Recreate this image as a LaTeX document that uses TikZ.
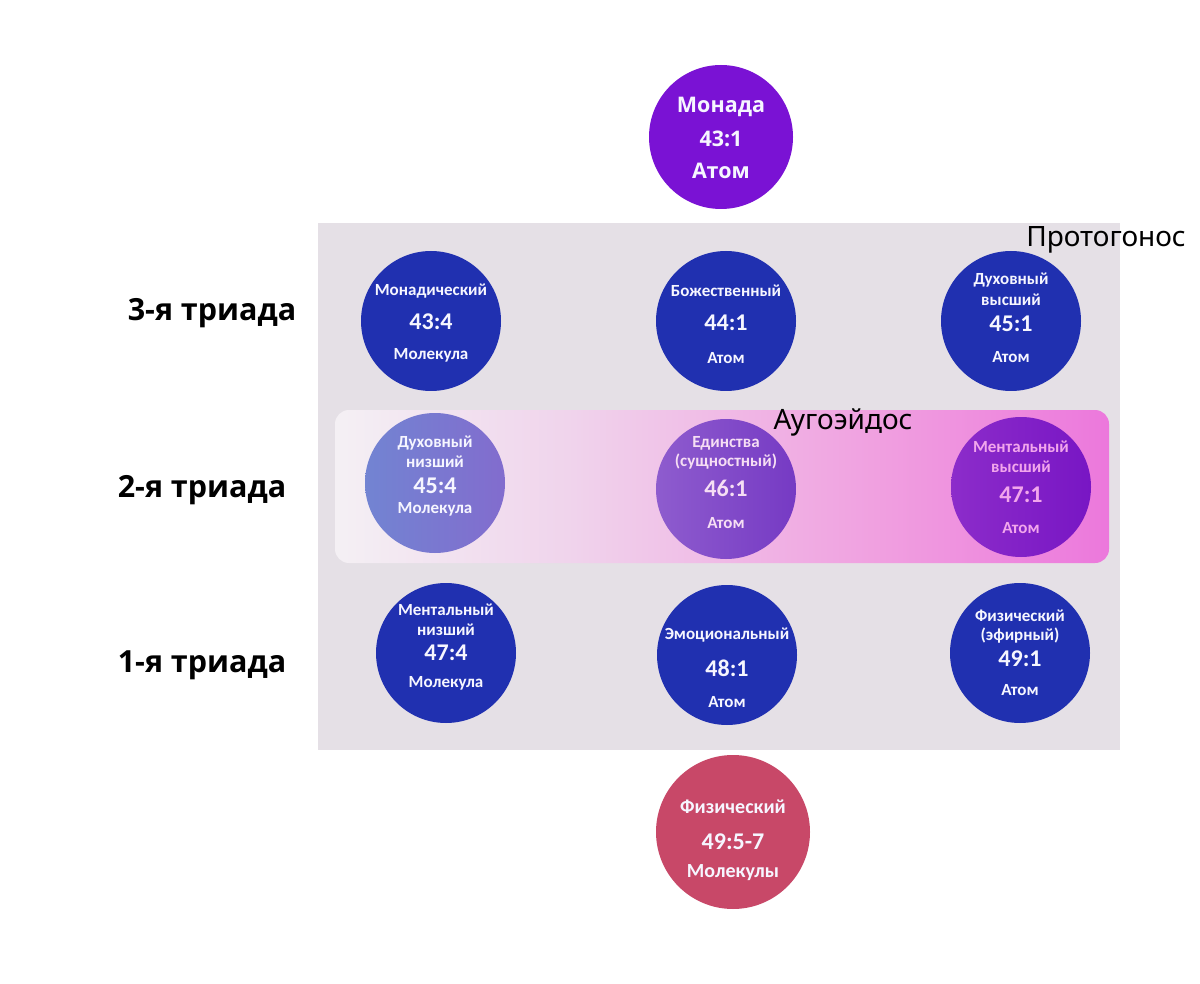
\documentclass[tikz,border=0pt]{standalone}
\usepackage{fontspec}
\setmainfont{Carlito}
\newfontfamily\osans{Open Sans}
\newfontfamily\nsans{Noto Sans}
\definecolor{panelgrey}{RGB}{229,224,230}
\definecolor{deepblue}{RGB}{32,48,176}
\definecolor{monadviolet}{RGB}{122,18,212}
\definecolor{physred}{RGB}{200,72,104}
\definecolor{bandA}{RGB}{244,240,244}
\definecolor{bandB}{RGB}{240,212,236}
\definecolor{bandC}{RGB}{240,160,224}
\definecolor{bandD}{RGB}{236,120,220}
\definecolor{txtwhite}{RGB}{246,246,255}
\definecolor{txtpale}{RGB}{246,222,244}
\definecolor{txtpink}{RGB}{242,166,236}
\pgfdeclarehorizontalshading{bandshade}{100bp}{color(0bp)=(bandA); color(25bp)=(bandA); color(40bp)=(bandB); color(60bp)=(bandC); color(75bp)=(bandD); color(100bp)=(bandD)}
\tikzset{
  bubble/.style={circle, inner sep=0pt, minimum size=140pt, draw=none},
  nm/.style={font=\bfseries\fontsize{17}{17}\selectfont, text=txtwhite, inner sep=0pt},
  num/.style={font=\bfseries\fontsize{24}{24}\selectfont, text=txtwhite, inner sep=0pt},
  triad/.style={font=\osans\bfseries\fontsize{30.5}{30.5}\selectfont, text=black, inner sep=0pt},
  zone/.style={font=\nsans\fontsize{28}{28}\selectfont, text=black, inner sep=0pt},
  mon/.style={font=\osans\bfseries\fontsize{21.5}{21.5}\selectfont, text=txtwhite, inner sep=0pt},
  big/.style={font=\bfseries\fontsize{20}{20}\selectfont, text=txtwhite, inner sep=0pt}
}
\begin{document}
\begin{tikzpicture}[x=1pt,y=-1pt]
\useasboundingbox (0,0) rectangle (1200,984);
\fill[white] (0,0) rectangle (1200,984);
% panel
\fill[panelgrey] (318,223) rectangle (1120,750);
% band
\shade[shading=bandshade, rounded corners=14pt] (335,410) rectangle (1109,563);

% top Monada
\node[bubble, minimum size=144pt, fill=monadviolet] (monad) at (721,137) {};
\node[mon] (monadA) at (721,107) {Монада};
\node[mon] (monadB) at (721,139) {43:1};
\node[mon] (monadC) at (721,171) {Атом};

% labels
\node[zone] (proto) at (1106,240) {Протогонос};
\node[zone] (augo) at (843,422) {Аугоэйдос};
\node[triad] (t3) at (212,313) {3-я триада};
\node[triad] (t2) at (202,490) {2-я триада};
\node[triad] (t1) at (202,665) {1-я триада};

% row 3
\node[bubble, fill=deepblue] (c31) at (431,321) {};
\node[nm] (c31a) at (431,291) {Монадический};
\node[num] (c31b) at (431,322) {43:4};
\node[nm] (c31c) at (431,355) {Молекула};

\node[bubble, fill=deepblue] (c32) at (726,321) {};
\node[nm] (c32a) at (726,291) {Божественный};
\node[num] (c32b) at (726,323) {44:1};
\node[nm] (c32c) at (726,358) {Атом};

\node[bubble, fill=deepblue] (c33) at (1011,321) {};
\node[nm] (c33a) at (1011,280) {Духовный};
\node[nm] (c33b) at (1011,300) {высший};
\node[num] (c33c) at (1011,324) {45:1};
\node[nm] (c33d) at (1011,357) {Атом};

% row 2
\node[bubble, left color={rgb,255:red,114;green,132;blue,210}, right color={rgb,255:red,130;green,108;blue,206}] (c21) at (435,483) {};
\node[nm] (c21a) at (435,443) {Духовный};
\node[nm] (c21b) at (435,462) {низший};
\node[num] (c21c) at (435,486) {45:4};
\node[nm] (c21d) at (435,509) {Молекула};

\node[bubble, left color={rgb,255:red,142;green,92;blue,206}, right color={rgb,255:red,118;green,58;blue,196}] (c22) at (726,489) {};
\node[nm, text=txtpale] (c22a) at (726,443) {Единства};
\node[nm, text=txtpale] (c22b) at (726,462) {(сущностный)};
\node[num, text=txtpale] (c22c) at (726,488) {46:1};
\node[nm, text=txtpale] (c22d) at (726,523) {Атом};

\node[bubble, left color={rgb,255:red,140;green,44;blue,202}, right color={rgb,255:red,120;green,22;blue,196}] (c23) at (1021,487) {};
\node[nm, text=txtpink] (c23a) at (1021,447) {Ментальный};
\node[nm, text=txtpink] (c23b) at (1021,467) {высший};
\node[num, text=txtpink] (c23c) at (1021,495) {47:1};
\node[nm, text=txtpink] (c23d) at (1021,528) {Атом};

% row 1
\node[bubble, fill=deepblue] (c11) at (446,653) {};
\node[nm] (c11a) at (446,610) {Ментальный};
\node[nm] (c11b) at (446,630) {низший};
\node[num] (c11c) at (446,653) {47:4};
\node[nm] (c11d) at (446,683) {Молекула};

\node[bubble, fill=deepblue] (c12) at (727,655) {};
\node[nm] (c12a) at (727,635) {Эмоциональный};
\node[num] (c12b) at (727,668) {48:1};
\node[nm] (c12c) at (727,702) {Атом};

\node[bubble, fill=deepblue] (c13) at (1020,653) {};
\node[nm] (c13a) at (1020,616) {Физический};
\node[nm] (c13b) at (1020,636) {(эфирный)};
\node[num] (c13c) at (1020,659) {49:1};
\node[nm] (c13d) at (1020,690) {Атом};

% bottom
\node[bubble, minimum size=154pt, fill=physred] (phys) at (733,832) {};
\node[big] (physa) at (733,807) {Физический};
\node[num] (physb) at (733,842) {49:5-7};
\node[big] (physc) at (733,873) {Молекулы};
\end{tikzpicture}
\end{document}
